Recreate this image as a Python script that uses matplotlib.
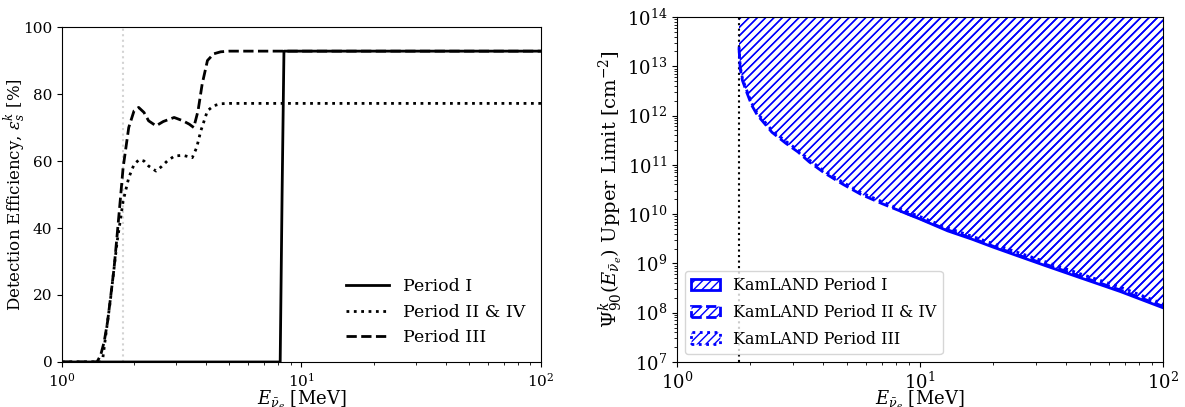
import numpy as np
import matplotlib
matplotlib.use("Agg")
import matplotlib.pyplot as plt
from matplotlib.patches import Patch

plt.rcParams['font.family'] = 'DejaVu Serif'
plt.rcParams['mathtext.fontset'] = 'dejavuserif'

# threshold energy (MeV)
e_thr = 1.8

# detection efficiency curves
eff_E_I = [1.0, 8.15, 8.3, 8.45, 100.0]
eff_I = [0, 0, 50, 92.8, 92.8]

eff_E_II = [1.0, 1.45, 1.48, 1.53, 1.59, 1.65, 1.70, 1.75, 1.80, 1.90, 2.00, 2.10, 2.20,
            2.30, 2.47, 2.60, 2.75, 2.95, 3.20, 3.50, 3.65, 3.80, 4.05, 4.30, 4.60, 5.0, 100.0]
eff_II = [0, 0, 1, 9, 18, 28, 36, 42, 48, 55, 59, 60.4, 60, 58.5, 57, 58.3, 60, 61.5, 61.7,
          61, 64, 69, 75, 76.5, 77.1, 77.2, 77.2]

eff_E_III = [1.0, 1.40, 1.45, 1.50, 1.55, 1.60, 1.65, 1.70, 1.75, 1.80, 1.90, 2.00, 2.09, 2.20,
             2.30, 2.47, 2.65, 2.94, 3.20, 3.40, 3.55, 3.70, 3.85, 4.05, 4.30, 4.60, 5.0, 100.0]
eff_III = [0, 0, 2, 6, 12, 20, 28, 38, 48, 58, 70, 75, 76, 74.5, 72, 70.5, 71.8, 73, 72,
           71, 70, 75, 83, 90, 92, 92.6, 92.8, 92.8]

# 90% C.L. upper limits (log10 cm^-2)
lim_E = [1.80, 1.82, 1.86, 1.93, 2.03, 2.14, 2.30, 2.46, 2.80, 3.15, 3.50, 4.03, 4.80,
         5.72, 7.00, 8.13, 10.0, 13.0, 16.4, 20.0, 25.0, 33.0, 45.0, 66.7, 100.0]
lim_III = [13.40, 13.00, 12.75, 12.53, 12.25, 12.05, 11.87, 11.70, 11.48, 11.30, 11.10,
           10.88, 10.65, 10.44, 10.25, 10.12, 9.95, 9.72, 9.55, 9.40, 9.23, 9.03, 8.80, 8.52, 8.18]
lim_II = [13.36, 12.96, 12.71, 12.49, 12.21, 12.01, 11.83, 11.66, 11.44, 11.26, 11.06,
          10.84, 10.61, 10.40, 10.21, 10.08, 9.91, 9.68, 9.51, 9.35, 9.18, 8.98, 8.75, 8.46, 8.13]
lim_E_I = [8.4, 10.0, 13.0, 16.4, 20.0, 25.0, 33.0, 45.0, 66.7, 100.0]
lim_I = [10.05, 9.90, 9.66, 9.49, 9.33, 9.16, 8.95, 8.72, 8.43, 8.10]

labels_lim = ['KamLAND Period I', 'KamLAND Period II & IV', 'KamLAND Period III']

fig = plt.figure(figsize=(11.85, 4.07), dpi=100)

# left: detection efficiency
ax1 = fig.add_axes([0.0523, 0.1106, 0.4042, 0.823])
ax1.axvline(e_thr, color='lightgray', linestyle=':', linewidth=1.5)
ax1.plot(eff_E_I, eff_I, 'k-', lw=2, label='Period I')
ax1.plot(eff_E_II, eff_II, 'k:', lw=2, label='Period II & IV')
ax1.plot(eff_E_III, eff_III, 'k--', lw=2, label='Period III')
ax1.set_xscale('log')
ax1.set_xlim(1, 100)
ax1.set_ylim(0, 100)
ax1.set_xlabel(r'$E_{\bar{\nu}_e}$ [MeV]', fontsize=13)
ax1.set_ylabel(r'Detection Efficiency, $\varepsilon^k_s$ [%]', fontsize=12)
ax1.xaxis.set_label_coords(0.5, -0.08)
ax1.yaxis.set_label_coords(-0.07, 0.5)
ax1.tick_params(labelsize=11)
ax1.legend(loc='lower right', fontsize=12.5, frameon=False, handlelength=2.5)

# right: flux upper limits
ax2 = fig.add_axes([0.5713, 0.1106, 0.4101, 0.8477])
ax2.axvline(e_thr, color='black', linestyle=':', linewidth=1.5)
lims = [(lim_E_I, lim_I, '-'), (lim_E, lim_II, '--'), (lim_E, lim_III, ':')]
handles = []
for (xe, ly, ls), lab in zip(lims, labels_lim):
    yv = 10 ** np.array(ly)
    ax2.fill_between(xe, yv, 1e14, facecolor='none', edgecolor='blue', hatch='////', linewidth=0)
    ax2.plot(xe, yv, color='blue', linestyle=ls, lw=2)
    handles.append(Patch(facecolor='none', edgecolor='blue', hatch='////', linestyle=ls,
                         linewidth=2, label=lab))
ax2.set_xscale('log')
ax2.set_yscale('log')
ax2.set_xlim(1, 100)
ax2.set_ylim(1e7, 1e14)
ax2.set_yticks([10.0 ** k for k in range(7, 15)])
ax2.set_xlabel(r'$E_{\bar{\nu}_e}$ [MeV]', fontsize=13)
ax2.set_ylabel(r'$\Psi^k_{90}(E_{\bar{\nu}_e})$ Upper Limit [cm$^{-2}$]', fontsize=14, labelpad=1)
ax2.xaxis.set_label_coords(0.5, -0.078)
ax2.tick_params(labelsize=13)
ax2.legend(handles=handles, loc='lower left', fontsize=11.5, handlelength=1.8, labelspacing=0.6)

fig.savefig('out.png', dpi=100)
